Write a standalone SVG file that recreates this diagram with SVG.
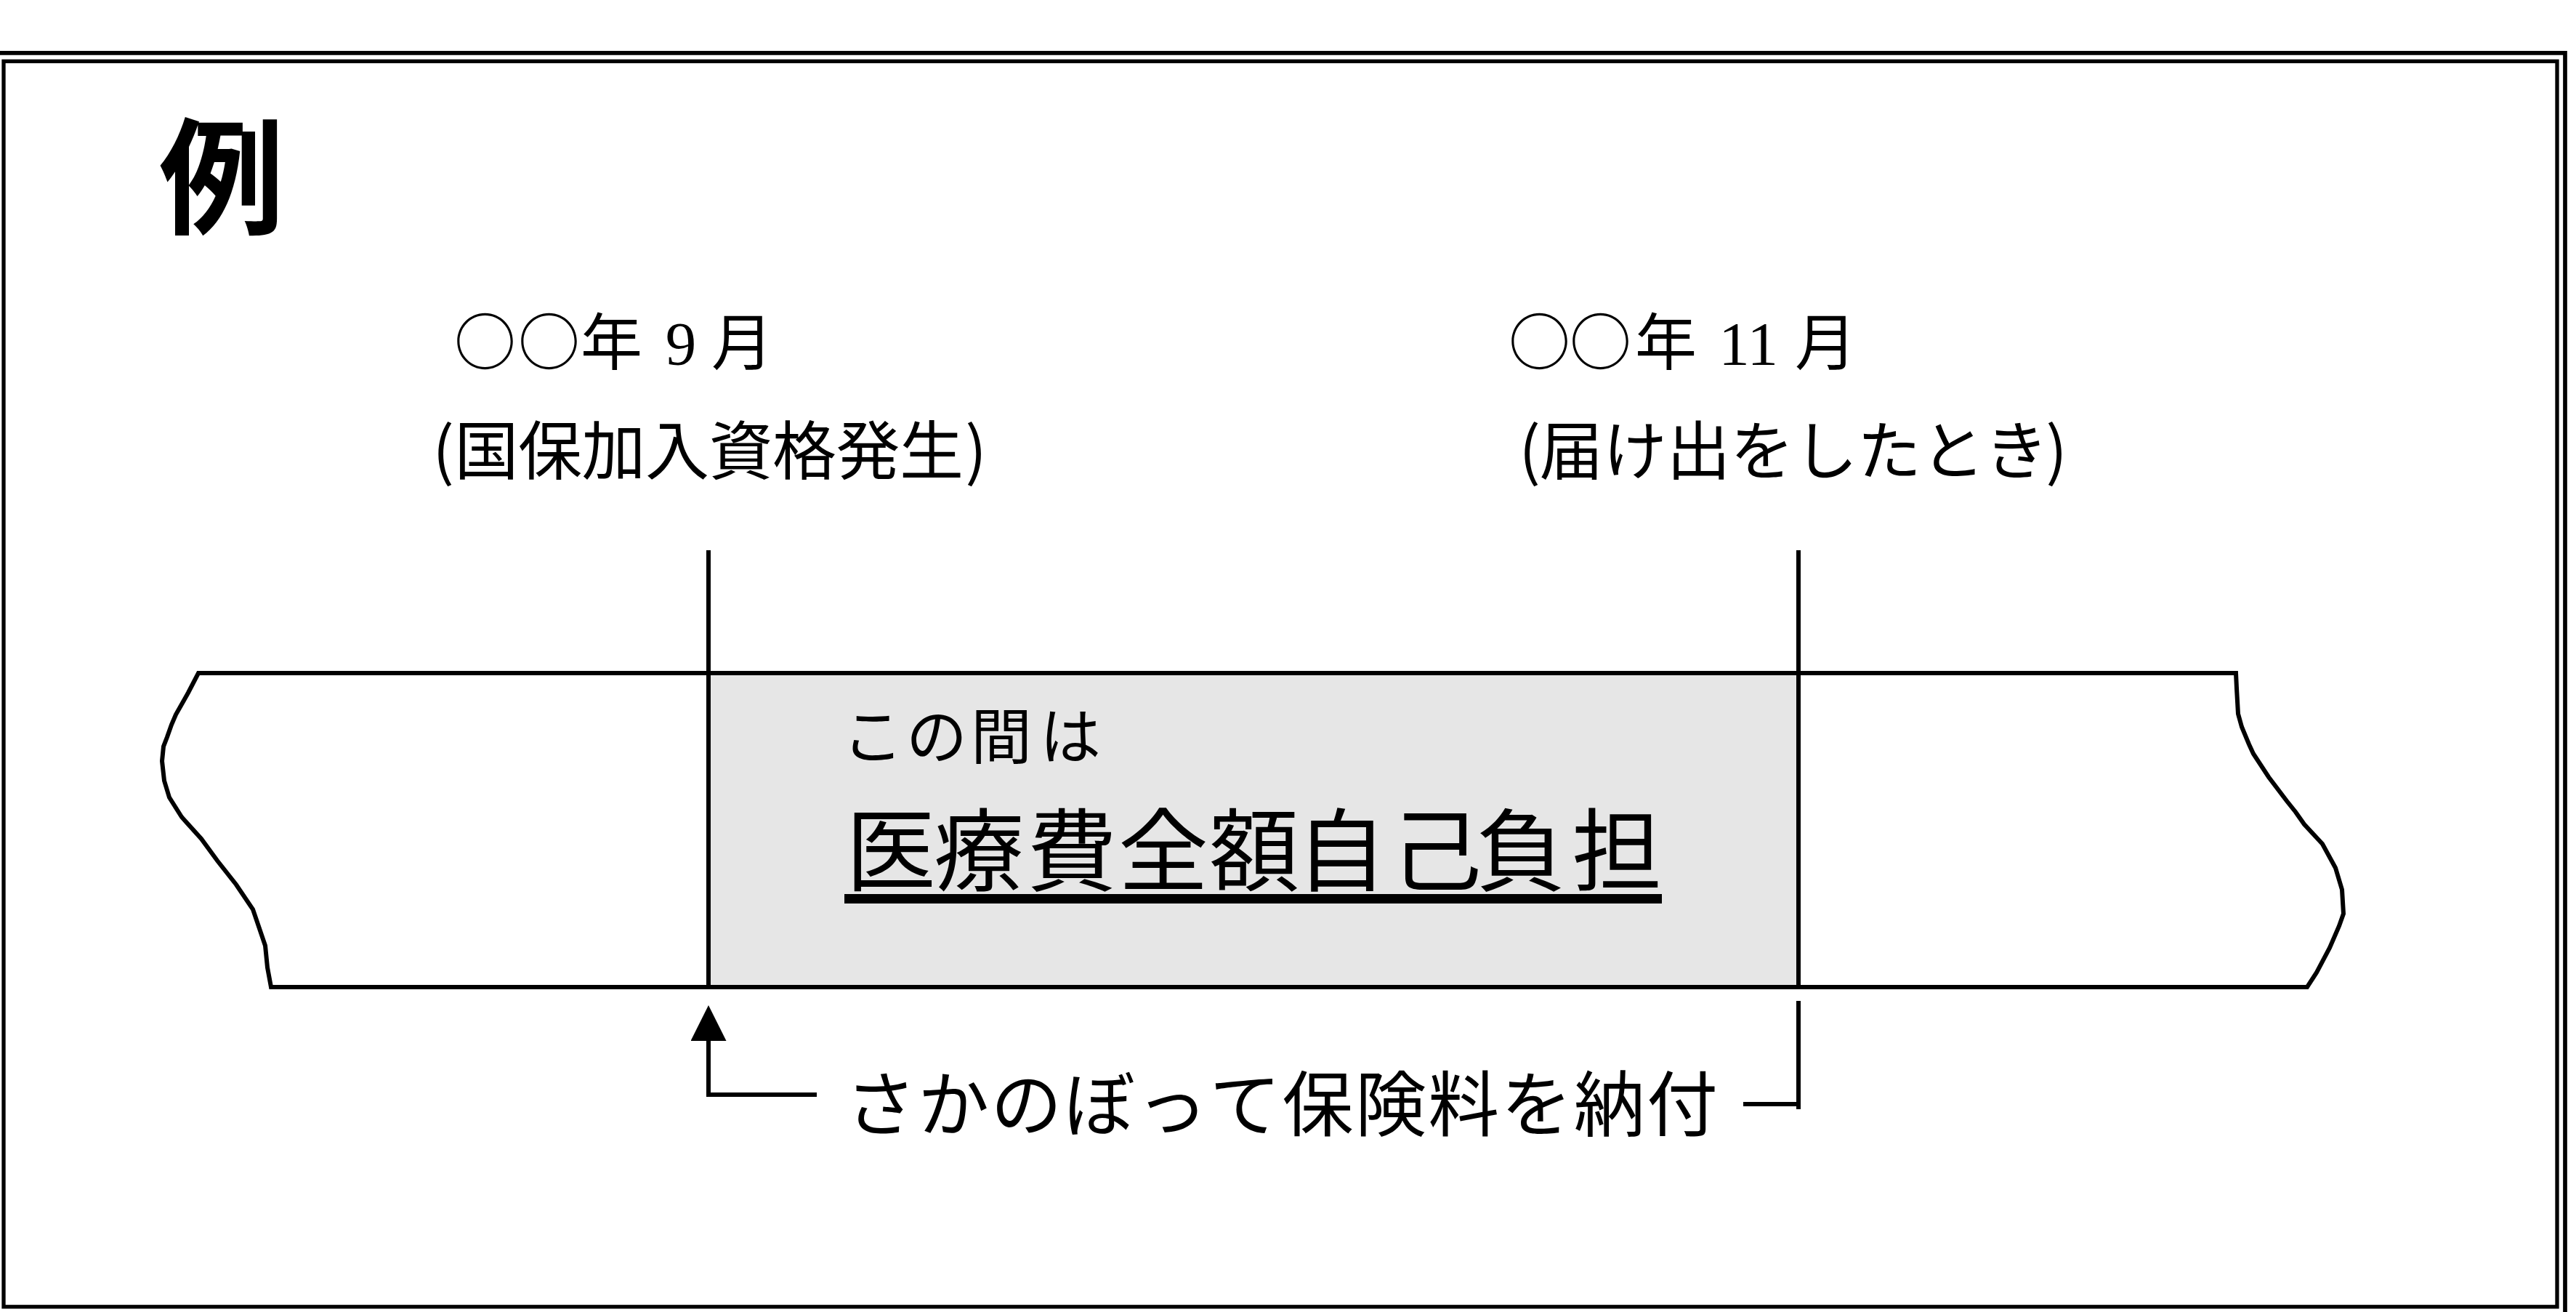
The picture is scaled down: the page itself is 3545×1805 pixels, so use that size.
<svg xmlns="http://www.w3.org/2000/svg" width="3545" height="1805" viewBox="0 0 3545 1805">
<style>
.ln{fill:none;stroke:#000;stroke-width:6;stroke-linecap:butt;stroke-linejoin:miter}
.jp{font-family:'Noto Sans CJK JP','Noto Sans CJK SC',sans-serif;fill:#000}
.d{font-family:'Liberation Serif','Noto Sans CJK JP',serif}
.c{text-anchor:middle}
</style>
<defs>
<marker id="arrowUp" viewBox="0 0 49 49" refX="0" refY="24.5" markerWidth="49" markerHeight="49" markerUnits="userSpaceOnUse" orient="auto">
<path d="M0 0 L49 24.5 L0 49 Z" fill="#000"/>
</marker>
</defs>
<rect x="0" y="0" width="3545" height="1805" fill="#fff"/>
<g id="frame">
<path d="M-10 72.8 H3530 V1830" fill="none" stroke="#000" stroke-width="5.7"/>
<rect x="5" y="84.3" width="3514" height="1713.5" fill="#fff" stroke="#000" stroke-width="5.3"/>
</g>
<g id="title">
<text class="jp c" x="305" y="308" font-size="173" font-weight="bold">例</text>
</g>
<g id="label-start">
<text class="jp" y="502" font-size="85"><tspan x="625 713 799">○○年</tspan><tspan class="d" x="894.5"> 9</tspan><tspan x="960"> 月</tspan></text>
<text class="jp c" y="652" font-size="88" x="610 669.5 757 844.5 932 1019.5 1107 1194.5 1282 1343">(国保加入資格発生)</text>
</g>
<g id="label-end">
<text class="jp" y="502" font-size="85"><tspan x="2076 2160 2250">○○年</tspan><tspan class="d" x="2344"> 11</tspan><tspan x="2451"> 月</tspan></text>
<text class="jp c" y="652" font-size="88" x="2105 2162.5 2250 2337.5 2425 2512.5 2600 2687.5 2775 2830">(届け出をしたとき)</text>
</g>
<g id="band">
<path class="ln" style="fill:#fff" d="M273 926 L3077 926 L3078 947 L3080 982 L3085 1000 L3095 1024 L3101 1037 L3122 1069 L3147 1102 L3159 1117 L3171 1134 L3196 1161 L3214 1194 L3223 1224 L3225 1257 L3219 1274 L3206 1304 L3188 1338 L3175 1358 L373 1358 L368 1331 L365 1301 L348 1251 L325 1217 L299 1184 L277 1154 L250 1124 L233 1097 L226 1074 L223 1047 L225 1027 L230 1014 L236 997 L242 983 L259 953 Z"/>
</g>
<g id="period">
<rect x="975" y="929" width="1500" height="426" fill="#e6e6e6"/>
<text class="jp c" y="1044" font-size="84" x="1201 1289 1378 1473">この間は</text>
<text class="jp c" y="1216" font-size="124" x="1226 1347 1475 1601 1726 1846 1977 2093 2225">医療費全額自己負担</text>
<rect x="1162" y="1230" width="1125" height="13" fill="#000"/>
</g>
<g id="connectors">
<path class="ln" d="M975 757 V1358"/>
<path class="ln" d="M2475 757 V1358"/>
<path class="ln" d="M1124 1506 H975 V1432" marker-end="url(#arrowUp)"/>
<path class="ln" d="M2399 1519 H2478 M2475 1526 V1377"/>
</g>
<g id="payment-label">
<text class="jp c" y="1555" font-size="98" x="1212 1312.3 1412.5 1512.8 1613.1 1713.4 1813.6 1913.9 2014.2 2114.4 2214.7 2315">さかのぼって保険料を納付</text>
</g>
</svg>
